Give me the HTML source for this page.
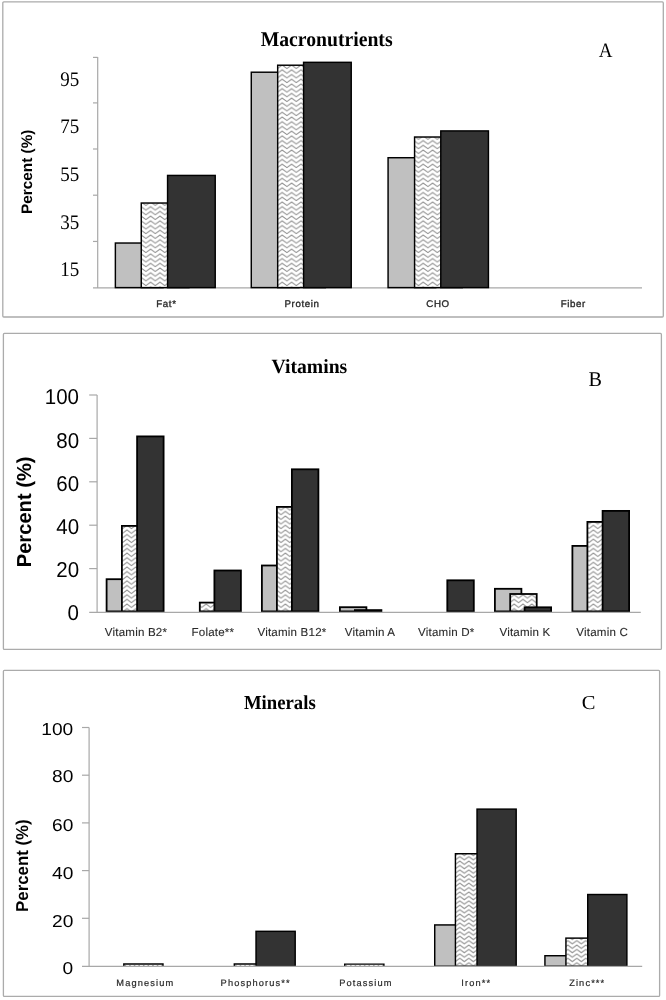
<!DOCTYPE html>
<html><head><meta charset="utf-8"><title>Figure</title>
<style>html,body{margin:0;padding:0;background:#fff;}svg{display:block;will-change:transform;text-rendering:geometricPrecision;}</style></head>
<body><svg width="666" height="1000" viewBox="0 0 666 1000">
<defs><pattern id="zzA" patternUnits="userSpaceOnUse" width="9.4" height="4.72" patternTransform="translate(0.2,3.7)"><rect x="-1" y="-1" width="11.4" height="6.72" fill="#fff"/><path d="M-9.400,-9.440 L-4.700,-6.040 L0.000,-9.440 L4.700,-6.040 L9.400,-9.440 L14.100,-6.040 L18.800,-9.440 L23.500,-6.040 M-9.400,-4.720 L-4.700,-1.320 L0.000,-4.720 L4.700,-1.320 L9.400,-4.720 L14.100,-1.320 L18.800,-4.720 L23.500,-1.320 M-9.400,0.000 L-4.700,3.400 L0.000,0.000 L4.700,3.400 L9.400,0.000 L14.100,3.400 L18.800,0.000 L23.500,3.400 M-9.400,4.720 L-4.700,8.120 L0.000,4.720 L4.700,8.120 L9.400,4.720 L14.100,8.120 L18.800,4.720 L23.500,8.120" fill="none" stroke="#8e8e8e" stroke-width="1.05" stroke-linejoin="round"/></pattern><pattern id="zzB" patternUnits="userSpaceOnUse" width="8.8" height="4.63" patternTransform="translate(3.8,2.1)"><rect x="-1" y="-1" width="10.8" height="6.63" fill="#fff"/><path d="M-8.800,-9.260 L-4.400,-5.860 L0.000,-9.260 L4.400,-5.860 L8.800,-9.260 L13.200,-5.860 L17.600,-9.260 L22.000,-5.860 M-8.800,-4.630 L-4.400,-1.230 L0.000,-4.630 L4.400,-1.230 L8.800,-4.630 L13.200,-1.230 L17.600,-4.630 L22.000,-1.230 M-8.800,0.000 L-4.400,3.400 L0.000,0.000 L4.400,3.400 L8.800,0.000 L13.200,3.400 L17.600,0.000 L22.000,3.400 M-8.800,4.630 L-4.400,8.030 L0.000,4.630 L4.400,8.030 L8.800,4.630 L13.200,8.030 L17.600,4.630 L22.000,8.030" fill="none" stroke="#8e8e8e" stroke-width="1.05" stroke-linejoin="round"/></pattern><pattern id="zzC" patternUnits="userSpaceOnUse" width="9.0" height="4.42" patternTransform="translate(0.8,3.57)"><rect x="-1" y="-1" width="11.0" height="6.42" fill="#fff"/><path d="M-9.000,-8.840 L-4.500,-5.440 L0.000,-8.840 L4.500,-5.440 L9.000,-8.840 L13.500,-5.440 L18.000,-8.840 L22.500,-5.440 M-9.000,-4.420 L-4.500,-1.020 L0.000,-4.420 L4.500,-1.020 L9.000,-4.420 L13.500,-1.020 L18.000,-4.420 L22.500,-1.020 M-9.000,0.000 L-4.500,3.400 L0.000,0.000 L4.500,3.400 L9.000,0.000 L13.500,3.400 L18.000,0.000 L22.500,3.400 M-9.000,4.420 L-4.500,7.820 L0.000,4.420 L4.500,7.820 L9.000,4.420 L13.500,7.820 L18.000,4.420 L22.500,7.820" fill="none" stroke="#8e8e8e" stroke-width="1.05" stroke-linejoin="round"/></pattern></defs>
<rect width="666" height="1000" fill="#fff"/>
<rect x="2.8" y="1.9" width="660.5" height="315.1" rx="1" fill="none" stroke="#ababab" stroke-width="1.3"/>
<rect x="3.4" y="333.4" width="658.0" height="316.0" rx="1" fill="none" stroke="#ababab" stroke-width="1.3"/>
<rect x="3.4" y="670.3" width="656.2" height="326.1" rx="1" fill="none" stroke="#ababab" stroke-width="1.3"/>
<line x1="97.7" y1="57.0" x2="97.7" y2="287.9" stroke="#a8a8a8" stroke-width="1.2"/>
<line x1="93.0" y1="57.4" x2="97.7" y2="57.4" stroke="#a8a8a8" stroke-width="1.2"/>
<line x1="93.0" y1="102.9" x2="97.7" y2="102.9" stroke="#a8a8a8" stroke-width="1.2"/>
<line x1="93.0" y1="149.0" x2="97.7" y2="149.0" stroke="#a8a8a8" stroke-width="1.2"/>
<line x1="93.0" y1="195.2" x2="97.7" y2="195.2" stroke="#a8a8a8" stroke-width="1.2"/>
<line x1="93.0" y1="241.45" x2="97.7" y2="241.45" stroke="#a8a8a8" stroke-width="1.2"/>
<line x1="93.0" y1="287.9" x2="642.0" y2="287.9" stroke="#a8a8a8" stroke-width="1.2"/>
<rect x="115.37" y="243.03" width="47.65" height="44.58" fill="#c0c0c0" stroke="#000" stroke-width="1.45"/>
<rect x="141.27" y="203.03" width="47.65" height="84.58" fill="url(#zzA)" stroke="#000" stroke-width="1.45"/>
<rect x="167.57" y="175.43" width="47.65" height="112.18" fill="#333333" stroke="#000" stroke-width="1.45"/>
<rect x="251.28" y="72.22" width="47.65" height="215.38" fill="#c0c0c0" stroke="#000" stroke-width="1.45"/>
<rect x="277.68" y="65.22" width="47.65" height="222.38" fill="url(#zzA)" stroke="#000" stroke-width="1.45"/>
<rect x="303.58" y="62.33" width="47.65" height="225.28" fill="#333333" stroke="#000" stroke-width="1.45"/>
<rect x="388.08" y="157.72" width="47.65" height="129.88" fill="#c0c0c0" stroke="#000" stroke-width="1.45"/>
<rect x="414.58" y="137.02" width="47.65" height="150.58" fill="url(#zzA)" stroke="#000" stroke-width="1.45"/>
<rect x="440.78" y="130.92" width="47.65" height="156.68" fill="#333333" stroke="#000" stroke-width="1.45"/>
<rect x="199.80" y="602.60" width="26.50" height="8.80" fill="url(#zzB)" stroke="#000" stroke-width="1.8"/>
<rect x="214.40" y="570.50" width="26.50" height="40.90" fill="#333333" stroke="#000" stroke-width="1.8"/>
<rect x="106.60" y="579.20" width="26.50" height="32.20" fill="#c0c0c0" stroke="#000" stroke-width="1.8"/>
<rect x="121.90" y="525.90" width="26.50" height="85.50" fill="url(#zzB)" stroke="#000" stroke-width="1.8"/>
<rect x="137.10" y="436.40" width="26.50" height="175.00" fill="#333333" stroke="#000" stroke-width="1.8"/>
<rect x="261.90" y="565.50" width="26.50" height="45.90" fill="#c0c0c0" stroke="#000" stroke-width="1.8"/>
<rect x="276.90" y="506.90" width="26.50" height="104.50" fill="url(#zzB)" stroke="#000" stroke-width="1.8"/>
<rect x="291.90" y="469.30" width="26.50" height="142.10" fill="#333333" stroke="#000" stroke-width="1.8"/>
<rect x="339.90" y="607.20" width="26.50" height="4.20" fill="#c0c0c0" stroke="#000" stroke-width="1.8"/>
<rect x="354.90" y="610.10" width="26.50" height="1.30" fill="url(#zzB)" stroke="#000" stroke-width="1.8"/>
<rect x="447.30" y="580.30" width="26.50" height="31.10" fill="#333333" stroke="#000" stroke-width="1.8"/>
<rect x="494.90" y="588.80" width="26.50" height="22.60" fill="#c0c0c0" stroke="#000" stroke-width="1.8"/>
<rect x="510.20" y="594.00" width="26.50" height="17.40" fill="url(#zzB)" stroke="#000" stroke-width="1.8"/>
<rect x="524.60" y="607.30" width="26.50" height="4.10" fill="#333333" stroke="#000" stroke-width="1.8"/>
<rect x="572.40" y="545.90" width="26.50" height="65.50" fill="#c0c0c0" stroke="#000" stroke-width="1.8"/>
<rect x="587.40" y="521.90" width="26.50" height="89.50" fill="url(#zzB)" stroke="#000" stroke-width="1.8"/>
<rect x="602.60" y="510.90" width="26.50" height="100.50" fill="#333333" stroke="#000" stroke-width="1.8"/>
<line x1="97.1" y1="395.0" x2="97.1" y2="612.4" stroke="#a8a8a8" stroke-width="1.2"/>
<line x1="89.2" y1="395.0" x2="97.1" y2="395.0" stroke="#a8a8a8" stroke-width="1.2"/>
<line x1="89.2" y1="438.4" x2="97.1" y2="438.4" stroke="#a8a8a8" stroke-width="1.2"/>
<line x1="89.2" y1="481.8" x2="97.1" y2="481.8" stroke="#a8a8a8" stroke-width="1.2"/>
<line x1="89.2" y1="525.2" x2="97.1" y2="525.2" stroke="#a8a8a8" stroke-width="1.2"/>
<line x1="89.2" y1="568.6" x2="97.1" y2="568.6" stroke="#a8a8a8" stroke-width="1.2"/>
<line x1="89.2" y1="612.4" x2="640.8" y2="612.4" stroke="#a8a8a8" stroke-width="1.2"/>
<rect x="123.10" y="963.30" width="40.60" height="2.90" fill="#fff"/>
<line x1="124.55" y1="965.50" x2="162.25" y2="965.50" stroke="#999" stroke-width="1" stroke-dasharray="1.6 3.0"/>
<path d="M123.82,966.20 V964.02 H162.97 V966.20" fill="none" stroke="#000" stroke-width="1.45"/>
<rect x="233.60" y="963.20" width="40.60" height="3.00" fill="#fff"/>
<line x1="235.05" y1="965.40" x2="272.75" y2="965.40" stroke="#999" stroke-width="1" stroke-dasharray="1.6 3.0"/>
<path d="M234.32,966.20 V963.93 H273.47 V966.20" fill="none" stroke="#000" stroke-width="1.45"/>
<rect x="256.03" y="931.33" width="39.15" height="34.88" fill="#333333" stroke="#000" stroke-width="1.45"/>
<rect x="344.00" y="963.40" width="40.60" height="2.80" fill="#fff"/>
<line x1="345.45" y1="965.60" x2="383.15" y2="965.60" stroke="#999" stroke-width="1" stroke-dasharray="1.6 3.0"/>
<path d="M344.73,966.20 V964.12 H383.88 V966.20" fill="none" stroke="#000" stroke-width="1.45"/>
<rect x="434.73" y="924.93" width="39.15" height="41.28" fill="#c0c0c0" stroke="#000" stroke-width="1.45"/>
<rect x="455.43" y="853.73" width="39.15" height="112.48" fill="url(#zzC)" stroke="#000" stroke-width="1.45"/>
<rect x="477.03" y="809.12" width="39.15" height="157.08" fill="#333333" stroke="#000" stroke-width="1.45"/>
<rect x="544.93" y="955.73" width="39.15" height="10.48" fill="#c0c0c0" stroke="#000" stroke-width="1.45"/>
<rect x="565.93" y="938.12" width="39.15" height="28.08" fill="url(#zzC)" stroke="#000" stroke-width="1.45"/>
<rect x="587.73" y="894.52" width="39.15" height="71.68" fill="#333333" stroke="#000" stroke-width="1.45"/>
<line x1="89.1" y1="727.5" x2="89.1" y2="966.3" stroke="#a8a8a8" stroke-width="1.2"/>
<line x1="82.0" y1="727.5" x2="89.1" y2="727.5" stroke="#a8a8a8" stroke-width="1.2"/>
<line x1="82.0" y1="775.2" x2="89.1" y2="775.2" stroke="#a8a8a8" stroke-width="1.2"/>
<line x1="82.0" y1="822.9" x2="89.1" y2="822.9" stroke="#a8a8a8" stroke-width="1.2"/>
<line x1="82.0" y1="870.6" x2="89.1" y2="870.6" stroke="#a8a8a8" stroke-width="1.2"/>
<line x1="82.0" y1="918.3" x2="89.1" y2="918.3" stroke="#a8a8a8" stroke-width="1.2"/>
<line x1="82.0" y1="966.3" x2="642.2" y2="966.3" stroke="#a8a8a8" stroke-width="1.2"/>
<text transform="translate(260.71,45.80) scale(1,1.0622)" font-family="Liberation Serif" font-weight="bold" font-size="19.685" fill="#000">Macronutrients</text>
<text transform="translate(598.81,56.60) scale(1,1.0837)" font-family="Liberation Serif" font-weight="normal" font-size="19.014" fill="#000">A</text>
<text transform="translate(60.33,86.19) scale(1,1.0901)" font-family="Liberation Serif" font-weight="normal" font-size="19.032" fill="#000">95</text>
<text transform="translate(60.33,132.99) scale(1,1.0901)" font-family="Liberation Serif" font-weight="normal" font-size="19.032" fill="#000">75</text>
<text transform="translate(60.33,180.79) scale(1,1.0901)" font-family="Liberation Serif" font-weight="normal" font-size="19.032" fill="#000">55</text>
<text transform="translate(60.33,228.59) scale(1,1.0901)" font-family="Liberation Serif" font-weight="normal" font-size="19.032" fill="#000">35</text>
<text transform="translate(60.33,276.19) scale(1,1.0901)" font-family="Liberation Serif" font-weight="normal" font-size="19.032" fill="#000">15</text>
<text transform="translate(31.50,213.97) rotate(-90) scale(1,0.9912)" font-family="Liberation Sans" font-weight="bold" font-size="15.353" fill="#000">Percent (%)</text>
<text transform="translate(271.50,373.10) scale(1,1.0250)" font-family="Liberation Serif" font-weight="bold" font-size="19.660" fill="#000">Vitamins</text>
<text transform="translate(588.39,385.70) scale(1,1.0442)" font-family="Liberation Serif" font-weight="normal" font-size="20.169" fill="#000">B</text>
<text transform="translate(44.76,403.79) scale(1,1.0435)" font-family="Liberation Sans" font-weight="normal" font-size="20.516" fill="#000">100</text>
<text transform="translate(56.25,447.99) scale(1,1.0435)" font-family="Liberation Sans" font-weight="normal" font-size="20.516" fill="#000">80</text>
<text transform="translate(56.25,491.09) scale(1,1.0435)" font-family="Liberation Sans" font-weight="normal" font-size="20.516" fill="#000">60</text>
<text transform="translate(56.25,534.29) scale(1,1.0435)" font-family="Liberation Sans" font-weight="normal" font-size="20.516" fill="#000">40</text>
<text transform="translate(56.25,577.49) scale(1,1.0435)" font-family="Liberation Sans" font-weight="normal" font-size="20.516" fill="#000">20</text>
<text transform="translate(67.53,620.49) scale(1,1.0435)" font-family="Liberation Sans" font-weight="normal" font-size="20.516" fill="#000">0</text>
<text transform="translate(30.80,567.31) rotate(-90) scale(1,1.0061)" font-family="Liberation Sans" font-weight="bold" font-size="20.167" fill="#000">Percent (%)</text>
<text transform="translate(243.93,709.00) scale(1,1.0676)" font-family="Liberation Serif" font-weight="bold" font-size="18.734" fill="#000">Minerals</text>
<text transform="translate(581.78,708.70) scale(1,0.9671)" font-family="Liberation Serif" font-weight="normal" font-size="20.526" fill="#000">C</text>
<text transform="translate(41.27,734.63) scale(1,0.9041)" font-family="Liberation Sans" font-weight="normal" font-size="19.161" fill="#000">100</text>
<text transform="translate(52.00,782.43) scale(1,0.9041)" font-family="Liberation Sans" font-weight="normal" font-size="19.161" fill="#000">80</text>
<text transform="translate(52.00,830.63) scale(1,0.9041)" font-family="Liberation Sans" font-weight="normal" font-size="19.161" fill="#000">60</text>
<text transform="translate(52.00,878.63) scale(1,0.9041)" font-family="Liberation Sans" font-weight="normal" font-size="19.161" fill="#000">40</text>
<text transform="translate(52.00,926.63) scale(1,0.9041)" font-family="Liberation Sans" font-weight="normal" font-size="19.161" fill="#000">20</text>
<text transform="translate(62.54,974.33) scale(1,0.9041)" font-family="Liberation Sans" font-weight="normal" font-size="19.161" fill="#000">0</text>
<text transform="translate(27.80,911.88) rotate(-90) scale(1,1.0264)" font-family="Liberation Sans" font-weight="bold" font-size="16.803" fill="#000">Percent (%)</text>
<text transform="translate(156.28,306.60) scale(1,1.0000)" font-family="Liberation Sans" font-size="9.710" letter-spacing="0.631" fill="#2a2a2a" stroke="#2a2a2a" stroke-width="0.35">Fat*</text>
<text transform="translate(284.47,306.60) scale(1,1.0000)" font-family="Liberation Sans" font-size="9.710" letter-spacing="0.631" fill="#2a2a2a" stroke="#2a2a2a" stroke-width="0.35">Protein</text>
<text transform="translate(426.24,306.60) scale(1,1.0000)" font-family="Liberation Sans" font-size="9.710" letter-spacing="0.631" fill="#2a2a2a" stroke="#2a2a2a" stroke-width="0.35">CHO</text>
<text transform="translate(560.68,306.60) scale(1,1.0000)" font-family="Liberation Sans" font-size="9.710" letter-spacing="0.631" fill="#2a2a2a" stroke="#2a2a2a" stroke-width="0.35">Fiber</text>
<text transform="translate(104.82,635.90) scale(1,1.0000)" font-family="Liberation Sans" font-size="11.594" letter-spacing="0.186" fill="#2a2a2a" stroke="#2a2a2a" stroke-width="0.1">Vitamin B2*</text>
<text transform="translate(191.56,635.90) scale(1,1.0000)" font-family="Liberation Sans" font-size="11.594" letter-spacing="0.186" fill="#2a2a2a" stroke="#2a2a2a" stroke-width="0.1">Folate**</text>
<text transform="translate(257.49,635.90) scale(1,1.0000)" font-family="Liberation Sans" font-size="11.594" letter-spacing="0.186" fill="#2a2a2a" stroke="#2a2a2a" stroke-width="0.1">Vitamin B12*</text>
<text transform="translate(344.85,635.90) scale(1,1.0000)" font-family="Liberation Sans" font-size="11.594" letter-spacing="0.186" fill="#2a2a2a" stroke="#2a2a2a" stroke-width="0.1">Vitamin A</text>
<text transform="translate(418.11,635.90) scale(1,1.0000)" font-family="Liberation Sans" font-size="11.594" letter-spacing="0.186" fill="#2a2a2a" stroke="#2a2a2a" stroke-width="0.1">Vitamin D*</text>
<text transform="translate(499.46,635.90) scale(1,1.0000)" font-family="Liberation Sans" font-size="11.594" letter-spacing="0.186" fill="#2a2a2a" stroke="#2a2a2a" stroke-width="0.1">Vitamin K</text>
<text transform="translate(576.33,635.90) scale(1,1.0000)" font-family="Liberation Sans" font-size="11.594" letter-spacing="0.186" fill="#2a2a2a" stroke="#2a2a2a" stroke-width="0.1">Vitamin C</text>
<text transform="translate(116.30,985.80) scale(1,1.0000)" font-family="Liberation Sans" font-size="9.275" letter-spacing="1.119" fill="#2a2a2a" stroke="#2a2a2a" stroke-width="0.2">Magnesium</text>
<text transform="translate(220.59,985.80) scale(1,1.0000)" font-family="Liberation Sans" font-size="9.275" letter-spacing="1.119" fill="#2a2a2a" stroke="#2a2a2a" stroke-width="0.2">Phosphorus**</text>
<text transform="translate(339.17,985.80) scale(1,1.0000)" font-family="Liberation Sans" font-size="9.275" letter-spacing="1.119" fill="#2a2a2a" stroke="#2a2a2a" stroke-width="0.2">Potassium</text>
<text transform="translate(461.23,985.80) scale(1,1.0000)" font-family="Liberation Sans" font-size="9.275" letter-spacing="1.119" fill="#2a2a2a" stroke="#2a2a2a" stroke-width="0.2">Iron**</text>
<text transform="translate(569.16,985.80) scale(1,1.0000)" font-family="Liberation Sans" font-size="9.275" letter-spacing="1.119" fill="#2a2a2a" stroke="#2a2a2a" stroke-width="0.2">Zinc***</text>
</svg></body></html>
